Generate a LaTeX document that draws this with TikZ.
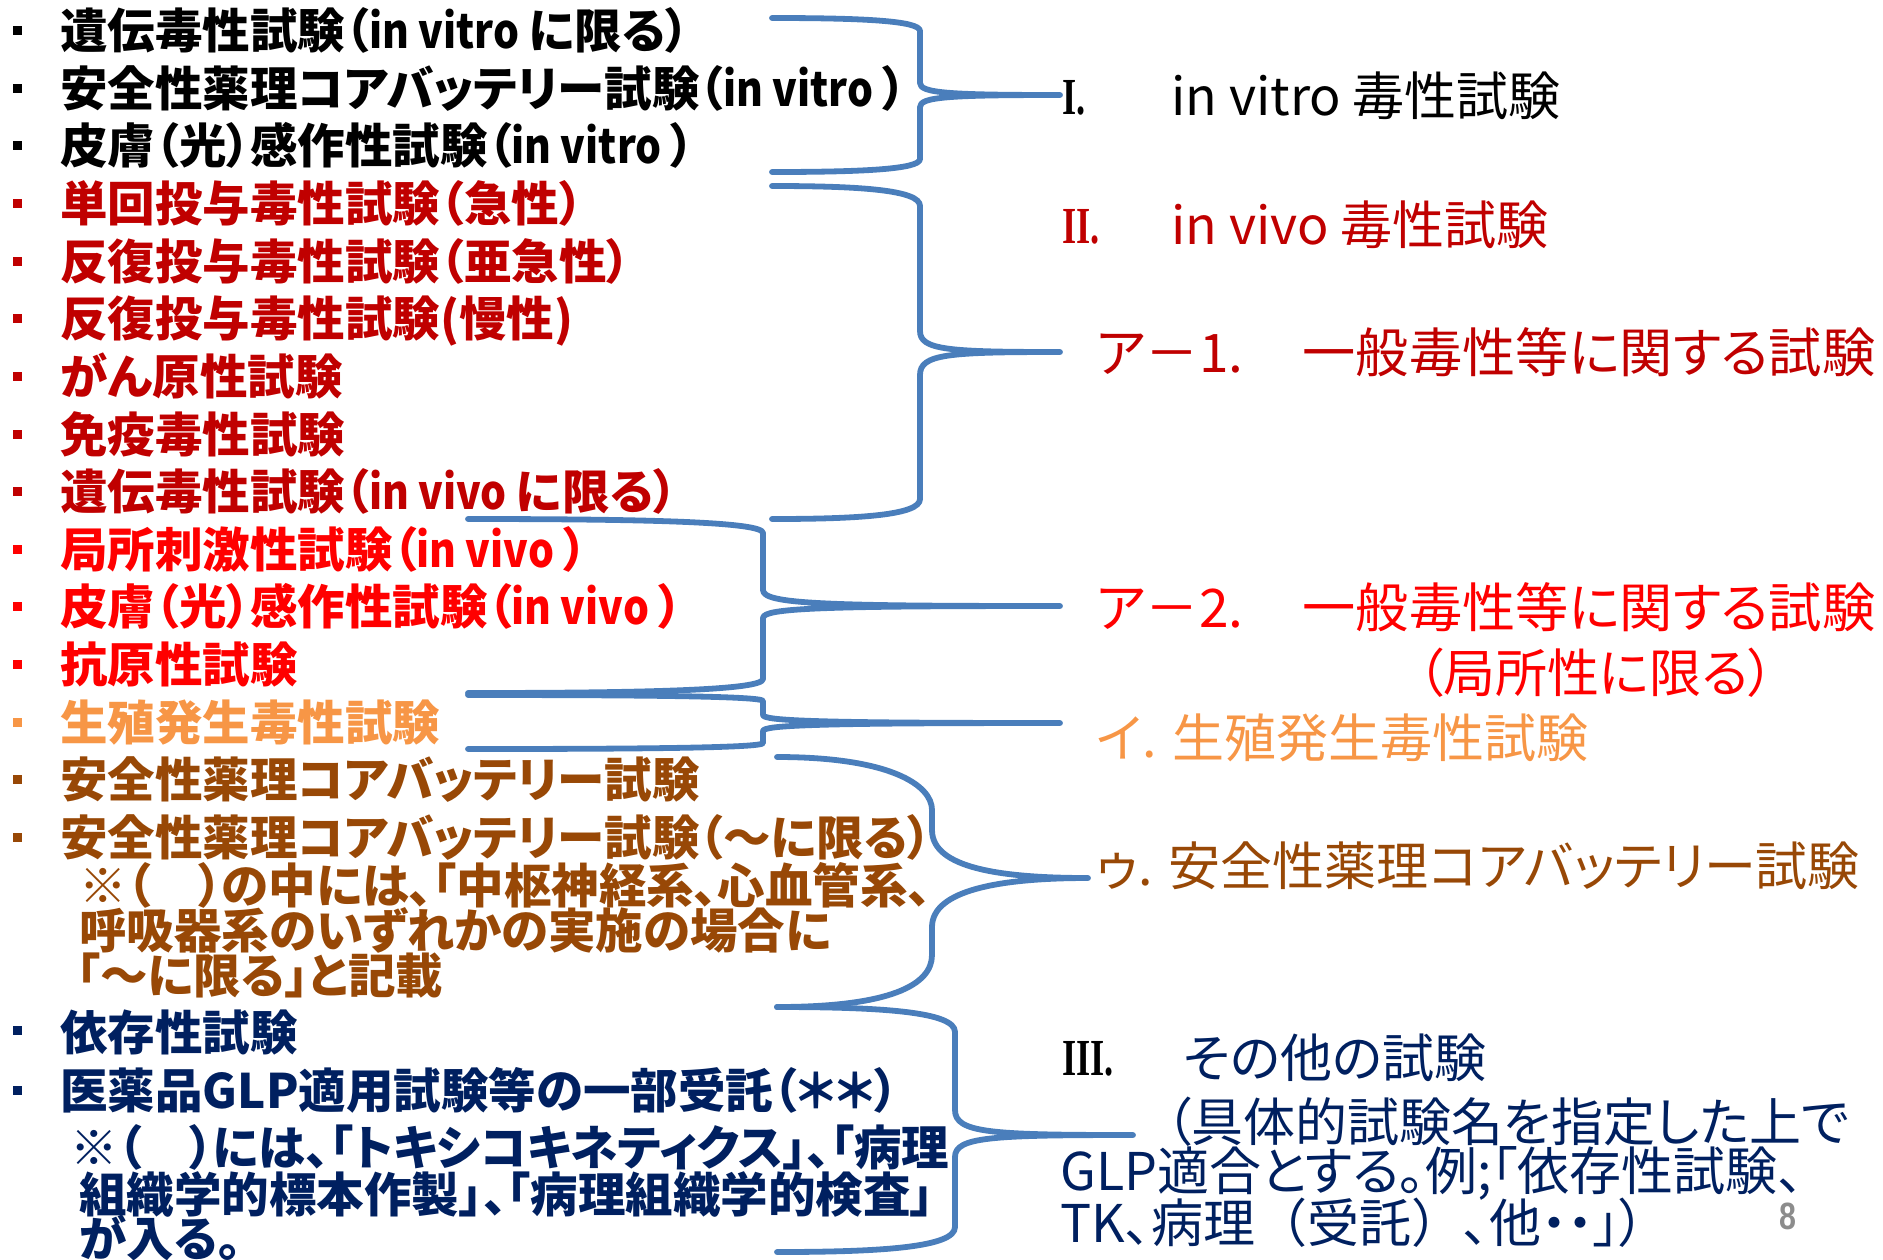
\documentclass[tikz,border=0pt]{standalone}
\usepackage{graphicx}
\usepackage{fontspec}
\setmainfont{Noto Sans CJK JP}[RawFeature=+palt]
\newfontfamily\jpfull{Noto Sans CJK JP}
\newfontfamily\numserif{Liberation Serif}
\newfontfamily\pagefont{Liberation Sans}
\definecolor{dred}{HTML}{C00000}
\definecolor{bred}{HTML}{FF0000}
\definecolor{orng}{HTML}{F79646}
\definecolor{brwn}{HTML}{984806}
\definecolor{dblue}{HTML}{002060}
\definecolor{braceblue}{HTML}{4A7EBB}
\definecolor{pagegray}{HTML}{8C8C8C}
\newcommand{\lat}[1]{\scalebox{0.86}[1]{#1}}
\tikzset{
  lrow/.style={anchor=base west, inner sep=0pt, text height=0.82em, text depth=0.06em,
    font=\fontsize{23.75}{28}\selectfont\bfseries},
  rlab/.style={anchor=base west, inner sep=0pt, text height=0.82em, text depth=0.08em,
    font=\fontsize{26}{30}\selectfont},
  rlabw/.style={rlab, font=\fontsize{26.6}{30}\selectfont},
  rnum/.style={anchor=base west, inner sep=0pt, font=\fontsize{26}{30}\selectfont\numserif\bfseries},
  bul/.style={fill, minimum width=4.5pt, minimum height=4.5pt, inner sep=0pt},
  brc/.style={draw=braceblue, line width=2.9pt, line cap=round, line join=round}
}
% #1 x0, #2 xs, #3 xt, #4 ytop, #5 ya, #6 ymid, #7 yb, #8 ybot, #9 corner
\newcommand{\sqbrace}[9]{%
  \draw[brc] (#1,#4) .. controls ({#1+0.6*(#2-#1)},#4) and (#2,{#4+0.2*#9}) .. (#2,{#4+#9})
    -- (#2,#5) .. controls (#2,{#6-2}) and ({#2+0.2*(#3-#2)},#6) .. (#3,#6)
    .. controls ({#2+0.2*(#3-#2)},#6) and (#2,{#6+2}) .. (#2,#7)
    -- (#2,{#8-#9}) .. controls (#2,{#8-0.2*#9}) and ({#1+0.6*(#2-#1)},#8) .. (#1,#8);}
\begin{document}
\begin{tikzpicture}[x=0.5pt,y=-0.5pt]
\useasboundingbox (0,0) rectangle (1883,1259);

% ---------- left list ----------
\node[bul, black] (b1) at (17,30) {};
\node[lrow, text=black] (r1) at (60,48) {遺伝毒性試験（\lat{in vitro }に限る）};
\node[bul, black] (b2) at (17,88) {};
\node[lrow, text=black] (r2) at (60,106) {安全性薬理コアバッテリー試験（\lat{in vitro }）};
\node[bul, black] (b3) at (17,145) {};
\node[lrow, text=black] (r3) at (60,163) {皮膚（光）感作性試験（\lat{in vitro }）};
\node[bul, dred] (b4) at (17,203) {};
\node[lrow, text=dred] (r4) at (60,221) {単回投与毒性試験（急性）};
\node[bul, dred] (b5) at (17,261) {};
\node[lrow, text=dred] (r5) at (60,279) {反復投与毒性試験（亜急性）};
\node[bul, dred] (b6) at (17,318) {};
\node[lrow, text=dred] (r6) at (60,336) {反復投与毒性試験(慢性)};
\node[bul, dred] (b7) at (17,376) {};
\node[lrow, text=dred] (r7) at (60,394) {がん原性試験};
\node[bul, dred] (b8) at (17,434) {};
\node[lrow, text=dred] (r8) at (60,452) {免疫毒性試験};
\node[bul, dred] (b9) at (17,491) {};
\node[lrow, text=dred] (r9) at (60,509) {遺伝毒性試験（\lat{in vivo }に限る）};
\node[bul, bred] (b10) at (17,549) {};
\node[lrow, text=bred] (r10) at (60,567) {局所刺激性試験（\lat{in vivo }）};
\node[bul, bred] (b11) at (17,606) {};
\node[lrow, text=bred] (r11) at (60,624) {皮膚（光）感作性試験（\lat{in vivo }）};
\node[bul, bred] (b12) at (17,664) {};
\node[lrow, text=bred] (r12) at (60,682) {抗原性試験};
\node[bul, orng] (b13) at (17,722) {};
\node[lrow, text=orng] (r13) at (60,740) {生殖発生毒性試験};
\node[bul, brwn] (b14) at (17,779) {};
\node[lrow, text=brwn] (r14) at (60,797) {安全性薬理コアバッテリー試験};
\node[bul, brwn] (b15) at (17,837) {};
\node[lrow, text=brwn] (r15) at (60,855) {安全性薬理コアバッテリー試験（～に限る）};
\node[lrow, text=brwn] (s15a) at (79,903) {※（　）の中には、「中枢神経系、心血管系、};
\node[lrow, text=brwn] (s15b) at (79,948) {呼吸器系のいずれかの実施の場合に};
\node[lrow, text=brwn] (s15c) at (76,993) {「～に限る」と記載};
\node[bul, dblue] (b16) at (17,1030) {};
\node[lrow, text=dblue] (r16) at (60,1050) {依存性試験};
\node[bul, dblue] (b17) at (17,1090) {};
\node[lrow, text=dblue] (r17) at (60,1108) {医薬品GLP適用試験等の一部受託（＊＊）};
\node[lrow, text=dblue] (s17a) at (70,1165) {※（　）には、「トキシコキネティクス」、「病理};
\node[lrow, text=dblue] (s17b) at (79,1212) {組織学的標本作製」、「病理組織学的検査」};
\node[lrow, text=dblue] (s17c) at (79,1256) {が入る。};

% ---------- right labels ----------
\node[rnum, text=black] (nI) at (1062,114) {\scalebox{0.7}[1]{I.}};
\node[rlab, text=black] (tI) at (1171,115) {in vitro 毒性試験};
\node[rnum, text=dred] (nII) at (1062,243) {\scalebox{0.7}[1]{II.}};
\node[rlab, text=dred] (tII) at (1171,244) {in vivo 毒性試験};
\node[rlabw, text=dred] (a1) at (1096,372) {ア－1.\hspace{3pt}　一般毒性等に関する試験};
\node[rlabw, text=bred] (a2) at (1096,627) {ア－2.\hspace{3pt}　一般毒性等に関する試験};
\node[rlab, text=bred] (a2b) at (1417,692) {（局所性に限る）};
\node[rlab, text=orng] (i1) at (1096,757) {イ.  生殖発生毒性試験};
\node[rlab, text=brwn] (u1) at (1096,885) {ゥ.  安全性薬理コアバッテリー試験};
\node[rnum, text=black] (nIII) at (1062,1075) {\scalebox{0.7}[1]{III.}};
\node[rlab, text=dblue] (tIII) at (1183,1077) {その他の試験};
\node[rlab, text=dblue] (t3a) at (1165,1141) {（具体的試験名を指定した上で};
\node[rlab, text=dblue] (t3b) at (1060,1190) {GLP適合とする。例;「依存性試験、};
\node[rlab, text=dblue] (t3c) at (1060,1242) {TK、病理{\jpfull （}受託{\jpfull ）}、他・・」）};
\node[anchor=base west, inner sep=0pt, text=pagegray, font=\fontsize{19}{22}\selectfont\pagefont\bfseries] (pg) at (1779,1229) {\scalebox{0.8}[1]{8}};

% ---------- braces ----------
\sqbrace{772}{920}{1060}{18}{83}{95}{107}{172}{13}
\sqbrace{772}{920}{1060}{186}{331}{352}{375}{519}{20}
\sqbrace{468}{763}{1060}{519}{590}{606}{618}{693}{14}
\sqbrace{468}{763}{1060}{695}{715}{723}{731}{749}{6}
\draw[brc] (777,757) .. controls (890,757) and (932,785) .. (932,810) -- (932,830)
   .. controls (932,868) and (1000,878) .. (1088,878)
   .. controls (1000,878) and (932,890) .. (932,927) -- (932,955)
   .. controls (932,985) and (890,1007) .. (777,1007);
\sqbrace{777}{955}{1133}{1007}{1110}{1135}{1157}{1252}{25}
\end{tikzpicture}
\end{document}
